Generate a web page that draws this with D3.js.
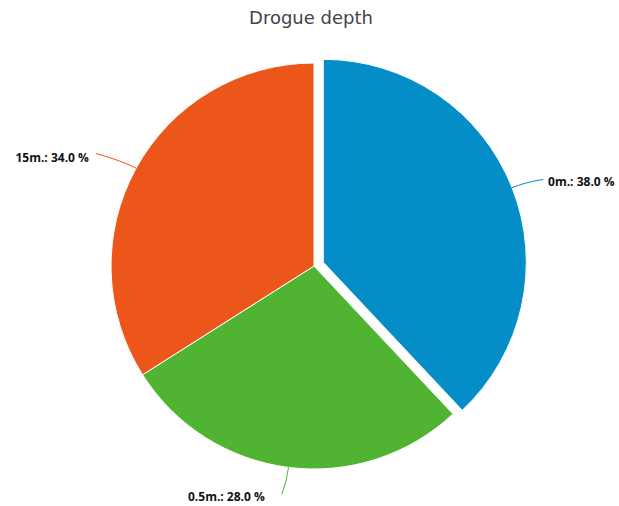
<!doctype html>
<html lang="en">
  <head>
    <meta charset="UTF-8" />
    <title>Drogue depth</title>
    <script src="https://d3js.org/d3.v7.min.js"></script>
    <style>
      body {
        margin: 0;
        background: #fff;
      }
      .title {
        font-family: 'DejaVu Sans', sans-serif;
        font-size: 18px;
        fill: #444;
      }
      .label {
        font-family: 'Open Sans', sans-serif;
        font-size: 12px;
        font-weight: bold;
        fill: #111;
      }
    </style>
  </head>
  <body>
    <svg width="619" height="506"></svg>
    <script>
      // chart data
      const categories = ['0m.', '0.5m.', '15m.'];
      const values = [38.0, 28.0, 34.0];
      const colors = ['#058DC7', '#50B432', '#ED561B'];
      const sliced = [true, false, false];

      const cx = 314;
      const cy = 266;
      const radius = 203;
      const sliceOffset = 10;

      const svg = d3.select('svg');

      svg
        .append('text')
        .attr('class', 'title')
        .attr('x', 311)
        .attr('y', 24)
        .attr('text-anchor', 'middle')
        .text('Drogue depth');

      const data = categories.map((c, i) => ({
        name: c,
        value: values[i],
        color: colors[i],
        sliced: sliced[i],
      }));

      const pie = d3
        .pie()
        .sort(null)
        .value((d) => d.value);

      const arc = d3.arc().innerRadius(0).outerRadius(radius);

      const arcs = pie(data);

      const g = svg
        .append('g')
        .attr('transform', `translate(${cx},${cy})`);

      // offset of a slice along its mid angle
      function offset(d) {
        if (!d.data.sliced) return [0, 0];
        const a = (d.startAngle + d.endAngle) / 2;
        return [Math.sin(a) * sliceOffset, -Math.cos(a) * sliceOffset];
      }

      g.selectAll('path.slice')
        .data(arcs)
        .enter()
        .append('path')
        .attr('class', 'slice')
        .attr('d', arc)
        .attr('transform', (d) => `translate(${offset(d)})`)
        .attr('fill', (d) => d.data.color)
        .attr('stroke', '#fff')
        .attr('stroke-width', 1);

      // data labels with connectors
      const total = d3.sum(values);
      arcs.forEach((d) => {
        const a = (d.startAngle + d.endAngle) / 2;
        const dx = Math.sin(a);
        const dy = -Math.cos(a);
        const [ox, oy] = offset(d);
        const right = dx > 0.3;
        const bottom = Math.abs(dx) <= 0.3;
        const p0 = [ox + dx * radius, oy + dy * radius];
        const p1 = [ox + dx * (radius + 14), oy + dy * (radius + 14)];
        let p2, tx, ty, anchor;
        if (right) {
          p2 = [p1[0] + 18, p1[1] - 3];
          tx = p2[0] + 5;
          ty = p2[1] + 7;
          anchor = 'start';
        } else if (bottom) {
          p2 = [p1[0] - 5, p1[1] + 13];
          tx = p2[0] - 17;
          ty = p2[1] + 7;
          anchor = 'end';
        } else {
          p2 = [p1[0] - 28, p1[1] - 8];
          tx = p2[0] - 7;
          ty = p2[1] + 9;
          anchor = 'end';
        }
        g.append('path')
          .attr(
            'd',
            `M${p0[0]},${p0[1]}Q${p1[0]},${p1[1]} ${p2[0]},${p2[1]}`,
          )
          .attr('fill', 'none')
          .attr('stroke', d.data.color)
          .attr('stroke-width', 1);
        g.append('text')
          .attr('class', 'label')
          .attr('x', tx)
          .attr('y', ty)
          .attr('text-anchor', anchor)
          .text(
            `${d.data.name}: ${((d.data.value / total) * 100).toFixed(1)} %`,
          );
      });
    </script>
  </body>
</html>
